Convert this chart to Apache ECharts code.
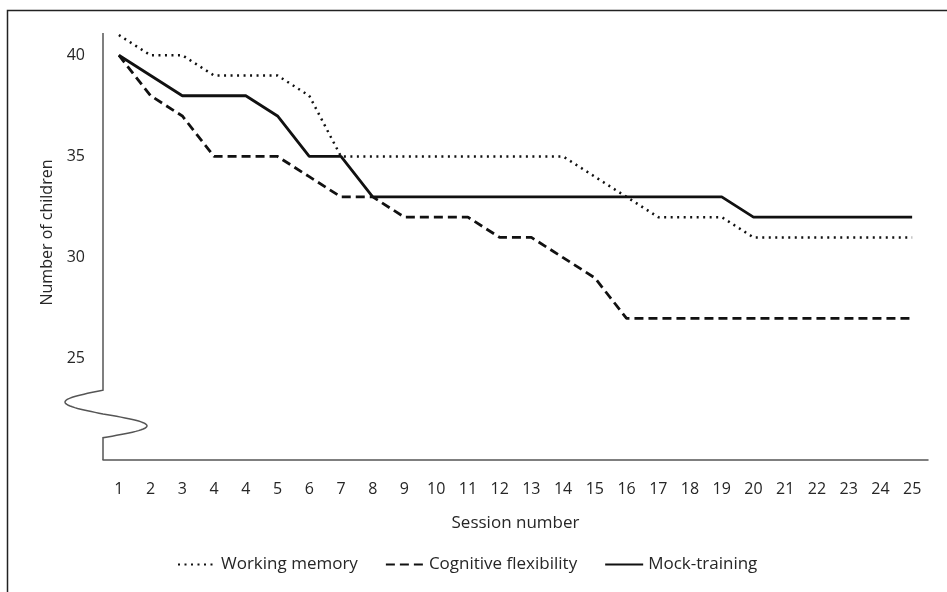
<!DOCTYPE html>
<html>
<head>
<meta charset="utf-8">
<script src="https://cdn.jsdelivr.net/npm/echarts@6/dist/echarts.min.js"></script>
<style>
html,body{margin:0;padding:0;background:#fff;}
#chart{width:947px;height:592px;}
</style>
</head>
<body>
<div id="chart"></div>
<script>
const sessions = ['1','2','3','4','4','5','6','7','8','9','10','11','12','13','14','15','16','17','18','19','20','21','22','23','24','25'];
const workingMemory = [41,40,40,39,39,39,38,35,35,35,35,35,35,35,35,34,33,32,32,32,31,31,31,31,31,31];
const cognitiveFlexibility = [40,38,37,35,35,35,34,33,33,32,32,32,31,31,30,29,27,27,27,27,27,27,27,27,27,27];
const mockTraining = [40,39,38,38,38,37,35,35,33,33,33,33,33,33,33,33,33,33,33,33,32,32,32,32,32,32];
const yTicks = [25,30,35,40];

const FONT = 'Open Sans';
const TXT = '#262626';
const chart = echarts.init(document.getElementById('chart'), null, {renderer:'canvas'});
const option = {
  backgroundColor:'#fff',
  animation:false,
  textStyle:{fontFamily:FONT,color:TXT},
  grid:{left:103,right:19,top:33,bottom:132,containLabel:false,outerBoundsMode:'none'},
  legend:{
    top:551,left:172,itemWidth:38,itemHeight:14,itemGap:27,
    itemStyle:{opacity:0},
    textStyle:{fontFamily:FONT,fontSize:17,color:TXT},
    data:['Working memory','Cognitive flexibility','Mock-training']
  },
  xAxis:{
    type:'category',data:sessions,boundaryGap:true,
    name:'Session number',nameLocation:'middle',nameGap:55,
    nameTextStyle:{fontFamily:FONT,fontSize:17,color:TXT},
    axisLine:{show:true,lineStyle:{color:'#555',width:1.5}},
    axisTick:{show:false},
    axisLabel:{margin:21,fontFamily:FONT,fontSize:16,color:TXT,interval:0},
    splitLine:{show:false}
  },
  yAxis:{
    type:'value',min:20,max:41.1,interval:5,
    name:'Number of children',nameLocation:'middle',nameGap:47,
    nameTextStyle:{fontFamily:FONT,fontSize:16,color:TXT,padding:[0,0,0,28]},
    axisLine:{show:false},
    axisTick:{show:false},
    splitLine:{show:false},
    axisLabel:{margin:18,fontFamily:FONT,fontSize:16,color:TXT,
      showMinLabel:false,showMaxLabel:false,
      formatter:function(v){return yTicks.indexOf(v)>=0?String(v):'';}}
  },
  series:[
    {name:'Working memory',type:'line',data:workingMemory,symbol:'none',
     lineStyle:{color:'#111',width:2.5,type:[2,4.5]},itemStyle:{color:'#111'}},
    {name:'Cognitive flexibility',type:'line',data:cognitiveFlexibility,symbol:'none',
     lineStyle:{color:'#111',width:2.8,type:[9,5]},itemStyle:{color:'#111'}},
    {name:'Mock-training',type:'line',data:mockTraining,symbol:'none',
     lineStyle:{color:'#111',width:2.8,type:'solid'},itemStyle:{color:'#111'}}
  ]
};
chart.setOption(option);

// y-axis line with break squiggle and page frame
(function(){
  const yTop = chart.convertToPixel({yAxisIndex:0}, 41.1);
  const yBot = chart.convertToPixel({yAxisIndex:0}, 20);
  const yb1 = chart.convertToPixel({yAxisIndex:0}, 23.45);
  const yb2 = chart.convertToPixel({yAxisIndex:0}, 21.1);
  const p0 = chart.convertToPixel({xAxisIndex:0}, 0);
  const p1 = chart.convertToPixel({xAxisIndex:0}, 1);
  const ax = p0 - (p1 - p0)/2;
  const pts = [[ax,yTop],[ax,yb1]];
  const N = 60;
  for(let i=1;i<=N;i++){
    const t=i/N;
    const s=Math.sin(2*Math.PI*t);
    const amp = s>0?38:44;
    pts.push([ax - amp*s, yb1 + t*(yb2-yb1)]);
  }
  pts.push([ax,yb2]);
  pts.push([ax,yBot]);
  chart.setOption({
    graphic:[
      {type:'polyline',shape:{points:pts},style:{stroke:'#555',lineWidth:1.5,fill:null},z:10},
      {type:'rect',shape:{x:7.5,y:10.5,width:1200,height:1200},style:{stroke:'#222',lineWidth:1.5,fill:null},z:10}
    ]
  });
})();
</script>
</body>
</html>
